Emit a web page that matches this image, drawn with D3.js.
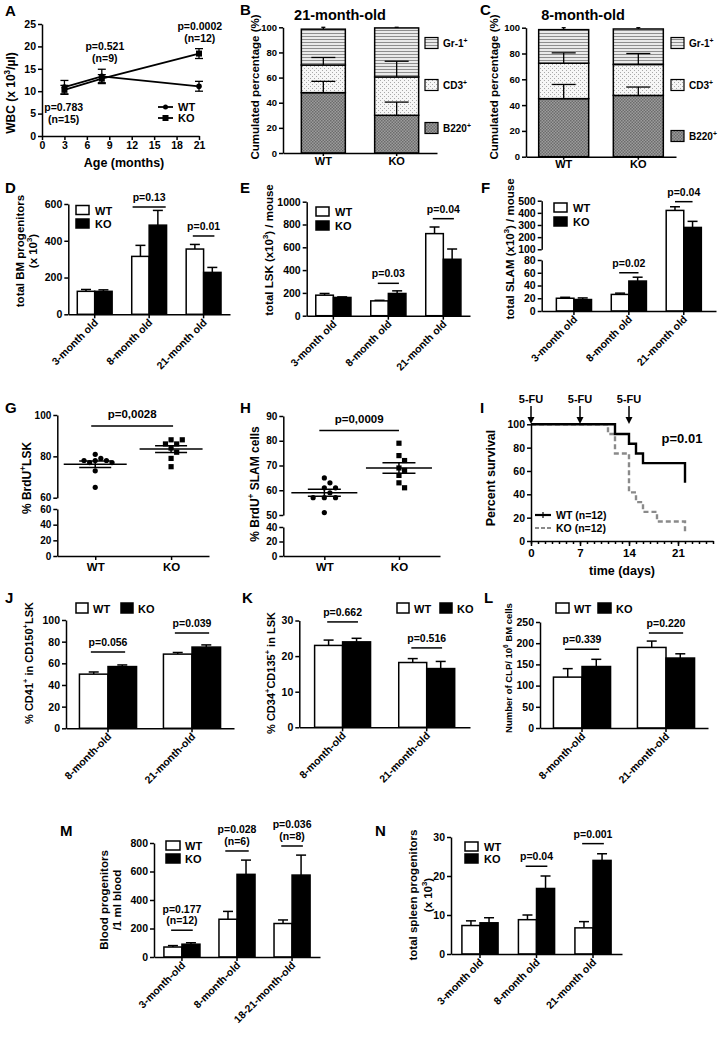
<html>
<head>
  <script src="https://d3js.org/d3.v7.min.js"></script>
  <title>WT vs KO ageing panels</title>
  <style>
    body { margin: 0; background: #fff; }
  </style>
</head>
<body>
<script>
// ---------- data ----------
// A: white blood cell counts
const ageMonths = [3, 8, 21];
const wbcWT = [10.9, 13.3, 11.1];
const wbcWTErr = [1.5, 1.6, 1.1];
const wbcKO = [10.3, 12.8, 18.4];
const wbcKOErr = [1.0, 0.9, 1.1];
const wbcP = ["p=0.783", "p=0.521", "p=0.0002"];
const wbcN = ["(n=15)", "(n=9)", "(n=12)"];

// B, C: lineage composition (stack order bottom -> top)
const genotypes = ["WT", "KO"];
const lineageKeys = ["B220", "CD3", "Gr1"];
const lineageLabels = ["B220^+^", "CD3^+^", "Gr-1^+^"];
const m21B220 = [48, 30], m21CD3 = [22, 30.5], m21Gr1 = [28.5, 39];
const m21B220Err = [9, 10.5], m21CD3Err = [6, 12.5], m21Gr1Err = [1.5, 0.5];
const m8B220 = [45, 47.5], m8CD3 = [27.5, 24], m8Gr1 = [26, 27.5];
const m8B220Err = [11, 6.5], m8CD3Err = [8, 8.5], m8Gr1Err = [1.5, 1];
const pctTicks = [0, 20, 40, 60, 80, 100];

// D, E, F
const ageOld = ["3-month old", "8-month old", "21-month old"];
const bmWT = [125, 315, 355], bmWTErr = [10, 60, 25];
const bmKO = [125, 485, 228], bmKOErr = [8, 80, 27];
const lskWT = [180, 130, 720], lskWTErr = [15, 5, 58];
const lskKO = [160, 195, 495], lskKOErr = [5, 23, 90];
const slamWT = [20, 26, 420], slamWTErr = [1.5, 2, 30];
const slamKO = [18, 47, 280], slamKOErr = [2.5, 6, 50];

// G, H: BrdU incorporation, one value per mouse
const brduLskWT = [81, 79, 78, 78, 78, 77, 77, 73, 65];
const brduLskKO = [88, 88, 86, 86, 84, 82, 79, 75];
const brduSlamWT = [65, 63, 61, 61, 59, 57, 57, 57, 51];
const brduSlamKO = [79, 74, 72, 69, 68, 66, 63, 61];

// I: survival after 5-FU
const wtSurvDays = [0, 12, 14, 15, 16, 22];
const wtSurvPct = [100, 91.7, 83.3, 75, 66.7, 50];
const koSurvDays = [0, 11, 12, 14, 15, 16, 18, 22];
const koSurvPct = [100, 91.7, 75, 41.7, 33.3, 25, 16.7, 8.3];
const fuDays = [0, 7, 14];

// J, K, L
const ageOld2 = ["8-month-old", "21-month-old"];
const cd41WT = [50, 68.5], cd41WTErr = [2, 1.5];
const cd41KO = [57, 75], cd41KOErr = [1.5, 2];
const cd34WT = [23, 18.2], cd34WTErr = [1.5, 1.1];
const cd34KO = [24, 16.5], cd34KOErr = [1, 2];
const clpWT = [120, 190], clpWTErr = [20, 15];
const clpKO = [145, 165], clpKOErr = [17, 10];

// M, N
const ageOld3 = ["3-month-old", "8-month-old", "18-21-month-old"];
const bloodWT = [70, 265, 235], bloodWTErr = [10, 55, 25];
const bloodKO = [90, 580, 575], bloodKOErr = [10, 100, 140];
const spleenWT = [7.3, 8.8, 6.7], spleenWTErr = [1.2, 1.2, 1.6];
const spleenKO = [8, 16.8, 24], spleenKOErr = [1.3, 3.2, 1.7];

// ---------- helpers ----------
const FONT = '"Liberation Sans", Arial, Helvetica, sans-serif';
const svg = d3.select("body").append("svg")
  .attr("width", 722).attr("height", 1039)
  .style("display", "block")
  .attr("font-family", FONT).attr("font-weight", "bold");
svg.append("rect").attr("width", 722).attr("height", 1039).attr("fill", "#fff");

// text where ^...^ marks a superscript
function label(x, y, s, size, anchor, rot) {
  const t = svg.append("text").attr("font-size", size).attr("text-anchor", anchor || "start")
    .attr("transform", `translate(${x},${y})` + (rot ? ` rotate(${rot})` : ""));
  let up = false;
  s.split("^").forEach((p, i) => {
    if (!p) return;
    const ts = t.append("tspan").text(p);
    if (i % 2 === 1) { ts.attr("font-size", size * 0.68).attr("dy", -size * 0.42); up = true; }
    else if (up) { ts.attr("dy", size * 0.42); up = false; }
  });
  return t;
}

function line(x1, y1, x2, y2, w, color) {
  return svg.append("line").attr("x1", x1).attr("y1", y1).attr("x2", x2).attr("y2", y2)
    .attr("stroke", color || "#000").attr("stroke-width", w || 1.5);
}

function styleAxis(g, fs) {
  g.attr("font-family", FONT).attr("font-size", fs).attr("font-weight", "bold");
  g.select(".domain").attr("stroke", "#000").attr("stroke-width", 1.5);
  g.selectAll(".tick line").attr("stroke", "#000").attr("stroke-width", 1.5);
  g.selectAll(".tick text").attr("fill", "#000");
  return g;
}

function leftAxis(scale, x, ticks, fs) {
  return styleAxis(svg.append("g").attr("transform", `translate(${x},0)`)
    .call(d3.axisLeft(scale).tickValues(ticks).tickFormat(d3.format("d"))
      .tickSize(4).tickSizeOuter(0).tickPadding(2)), fs || 10);
}

// fill patterns for the stacked bars
const defs = svg.append("defs");
const pGr = defs.append("pattern").attr("id", "pat-Gr1").attr("patternUnits", "userSpaceOnUse").attr("width", 4).attr("height", 3);
pGr.append("rect").attr("width", 4).attr("height", 3).attr("fill", "#eaeaea");
pGr.append("rect").attr("width", 4).attr("height", 1).attr("fill", "#8e8e8e");
const pCd = defs.append("pattern").attr("id", "pat-CD3").attr("patternUnits", "userSpaceOnUse").attr("width", 4).attr("height", 4);
pCd.append("rect").attr("width", 4).attr("height", 4).attr("fill", "#f6f6f6");
pCd.append("rect").attr("width", 1).attr("height", 1).attr("fill", "#a8a8a8");
pCd.append("rect").attr("x", 2).attr("y", 2).attr("width", 1).attr("height", 1).attr("fill", "#a8a8a8");
const pB = defs.append("pattern").attr("id", "pat-B220").attr("patternUnits", "userSpaceOnUse").attr("width", 3).attr("height", 3);
pB.append("rect").attr("width", 3).attr("height", 3).attr("fill", "#9c9c9c");
pB.append("rect").attr("width", 1.5).attr("height", 1.5).attr("fill", "#6c6c6c");
pB.append("rect").attr("x", 1.5).attr("y", 1.5).attr("width", 1.5).attr("height", 1.5).attr("fill", "#6c6c6c");

// ---------- A ----------
{
  const x = d3.scaleLinear().domain([0, 21]).range([42, 199]);
  const y = d3.scaleLinear().domain([0, 25]).range([136, 24]);
  const series = [
    { name: "WT", v: wbcWT, e: wbcWTErr },
    { name: "KO", v: wbcKO, e: wbcKOErr }];
  const path = d3.line().x((d, i) => x(ageMonths[i])).y(d => y(d));
  series.forEach(s => {
    svg.append("path").attr("d", path(s.v)).attr("fill", "none").attr("stroke", "#000").attr("stroke-width", 1.8);
    s.v.forEach((v, i) => {
      const cx = x(ageMonths[i]);
      line(cx, y(v - s.e[i]), cx, y(v + s.e[i]), 1.3);
      line(cx - 4, y(v - s.e[i]), cx + 4, y(v - s.e[i]), 1.3);
      line(cx - 4, y(v + s.e[i]), cx + 4, y(v + s.e[i]), 1.3);
      if (s.name === "WT") svg.append("circle").attr("cx", cx).attr("cy", y(v)).attr("r", 2.8);
      else svg.append("rect").attr("x", cx - 3).attr("y", y(v) - 3).attr("width", 6).attr("height", 6);
    });
  });
  leftAxis(y, 42, [0, 5, 10, 15, 20, 25], 10.5);
  styleAxis(svg.append("g").attr("transform", "translate(0,136)")
    .call(d3.axisBottom(x).tickValues([0, 3, 6, 9, 12, 15, 18, 21]).tickSize(4).tickSizeOuter(0).tickPadding(2)), 10.5);
  // p-value annotations, anchored in data units
  const annAt = [[2.9, 5.6], [8.4, 19.2], [21.1, 23.7]];
  annAt.forEach((a, i) => {
    label(x(a[0]), y(a[1]), wbcP[i], 10.5, "middle");
    label(x(a[0]), y(a[1]) + 12, wbcN[i], 10.5, "middle");
  });
  // legend
  [["WT", 107], ["KO", 118]].forEach(([n, ly]) => {
    line(158, ly, 173, ly, 1.8);
    if (n === "WT") svg.append("circle").attr("cx", 165.5).attr("cy", ly).attr("r", 2.5);
    else svg.append("rect").attr("x", 162.5).attr("y", ly - 3).attr("width", 6).attr("height", 6);
    label(178, ly + 4, n, 11);
  });
  label(15, 93, "WBC (x 10^3^/µl)", 12, "middle", -90);
  label(124, 167, "Age (months)", 12.5, "middle");
  label(5, 16, "A", 15);
}

// ---------- B, C ----------
function stackPanel(c) {
  const x = d3.scaleBand().domain(genotypes).range([c.ax, c.end]).paddingInner(c.pi).paddingOuter(c.po);
  const y = d3.scaleLinear().domain([0, 100]).range([c.y0, c.y1]);
  const table = genotypes.map((g, i) => ({ g, B220: c.B220[i], CD3: c.CD3[i], Gr1: c.Gr1[i] }));
  const errs = { B220: c.B220Err, CD3: c.CD3Err, Gr1: c.Gr1Err };
  const series = d3.stack().keys(lineageKeys)(table);
  series.forEach(s => {
    svg.append("g").selectAll("rect").data(s).join("rect")
      .attr("x", d => x(d.data.g)).attr("width", x.bandwidth())
      .attr("y", d => y(d[1])).attr("height", d => y(d[0]) - y(d[1]))
      .attr("fill", `url(#pat-${s.key})`).attr("stroke", "#000").attr("stroke-width", 1.5);
  });
  series.forEach(s => s.forEach((d, i) => {
    const e = errs[s.key][i], cx = x(d.data.g) + x.bandwidth() / 2, hw = s.key === "Gr1" ? 2 : 12;
    line(cx, y(d[1]), cx, y(d[1] + e), 1.3);
    line(cx - hw, y(d[1] + e), cx + hw, y(d[1] + e), 1.3);
  }));
  leftAxis(y, c.ax, pctTicks, 9.5);
  styleAxis(svg.append("g").attr("transform", `translate(0,${c.y0})`)
    .call(d3.axisBottom(x).tickSize(3).tickSizeOuter(0).tickPadding(1)), 11);
  lineageKeys.forEach((k, i) => {
    const ly = c.legY[i];
    svg.append("rect").attr("x", c.legX).attr("y", ly - 5.5).attr("width", 13).attr("height", 11)
      .attr("fill", `url(#pat-${k})`).attr("stroke", "#000").attr("stroke-width", 1.2);
    label(c.legX + 18, ly + 4, lineageLabels[i], 10);
  });
  label(c.ax + 57, 20, c.title, 14.5, "middle");
  label(c.labX, 87, "Cumulated percentage (%)", 11.5, "middle", -90);
  label(c.letX, 15, c.letter, 15);
}
stackPanel({ ax: 283, end: 437, pi: 0.4, po: 0.25, y0: 153, y1: 27.3,
  B220: m21B220, CD3: m21CD3, Gr1: m21Gr1, B220Err: m21B220Err, CD3Err: m21CD3Err, Gr1Err: m21Gr1Err,
  legX: 425, legY: [128, 85, 43], title: "21-month-old", labX: 259, letter: "B", letX: 240 });
stackPanel({ ax: 526, end: 676, pi: 0.33, po: 0.17, y0: 156.7, y1: 27.7,
  B220: m8B220, CD3: m8CD3, Gr1: m8Gr1, B220Err: m8B220Err, CD3Err: m8CD3Err, Gr1Err: m8Gr1Err,
  legX: 671, legY: [136, 85, 43], title: "8-month-old", labX: 498, letter: "C", letX: 480 });

// ---------- grouped bar panels ----------
function barPanel(c) {
  const x0 = d3.scaleBand().domain(c.cats).range([c.ax, c.end]).paddingInner(c.pi).paddingOuter(c.po);
  const x1 = d3.scaleBand().domain(genotypes).range([0, x0.bandwidth()]);
  const y = c.y, base = y(0), bw = x1.bandwidth();
  const rows = c.cats.flatMap((k, i) => [
    { k, g: "WT", v: c.wt[i], e: c.wtErr[i] },
    { k, g: "KO", v: c.ko[i], e: c.koErr[i] }]);
  const cx = d => x0(d.k) + x1(d.g) + bw / 2;
  const g = svg.append("g");
  g.selectAll(".err").data(rows).join("line").attr("class", "err")
    .attr("x1", cx).attr("x2", cx).attr("y1", d => y(d.v)).attr("y2", d => y(d.v + d.e))
    .attr("stroke", "#000").attr("stroke-width", 1.5);
  g.selectAll(".cap").data(rows).join("line").attr("class", "cap")
    .attr("x1", d => cx(d) - 5).attr("x2", d => cx(d) + 5)
    .attr("y1", d => y(d.v + d.e)).attr("y2", d => y(d.v + d.e))
    .attr("stroke", "#000").attr("stroke-width", 1.5);
  g.selectAll(".bar").data(rows).join("rect").attr("class", "bar")
    .attr("x", d => x0(d.k) + x1(d.g)).attr("width", bw)
    .attr("y", d => y(d.v)).attr("height", d => base - y(d.v))
    .attr("fill", d => d.g === "WT" ? "#fff" : "#000")
    .attr("stroke", "#000").attr("stroke-width", 1.5);
  c.axes.forEach(a => leftAxis(a.scale, c.ax, a.ticks, c.tfs || 10.5));
  styleAxis(svg.append("g").attr("transform", `translate(0,${base})`)
    .call(d3.axisBottom(x0).tickSize(4).tickSizeOuter(0).tickFormat("")), 10);
  c.cats.forEach(k => label(x0(k) + x0.bandwidth() / 2 + 4, base + 9, k, c.xfs || 10.5, "end", -45));
  c.pv.forEach(p => {
    const mid = x0(c.cats[p.i]) + x0.bandwidth() / 2, half = x0.bandwidth() * p.w / 2, ly = y(p.lv);
    line(mid - half, ly, mid + half, ly, 1.5);
    p.t.slice().reverse().forEach((s, j) => label(mid, ly - 6 - j * 11.5, s, c.pfs || 10.5, "middle"));
  });
  genotypes.forEach((gname, i) => {
    const lx = c.leg.x + i * (c.leg.dx || 0), ly = c.leg.y + i * (c.leg.dy || 0);
    svg.append("rect").attr("x", lx).attr("y", ly).attr("width", c.leg.w).attr("height", c.leg.h)
      .attr("fill", gname === "WT" ? "#fff" : "#000").attr("stroke", "#000").attr("stroke-width", 1.5);
    label(lx + c.leg.tx, ly + c.leg.h, gname, 11);
  });
  c.ylab.forEach(l => label(l[1], l[2], l[0], l[3], "middle", -90));
  label(c.letter[1], c.letter[2], c.letter[0], 15);
}

const yD = d3.scaleLinear().domain([0, 600]).range([314.3, 204]);
barPanel({ cats: ageOld, wt: bmWT, wtErr: bmWTErr, ko: bmKO, koErr: bmKOErr,
  ax: 68.3, end: 230, pi: 0.36, po: 0.165, y: yD, axes: [{ scale: yD, ticks: [0, 200, 400, 600] }],
  pv: [{ i: 1, t: ["p=0.13"], lv: 584, w: 0.95 }, { i: 2, t: ["p=0.01"], lv: 426, w: 0.62 }],
  leg: { x: 76, y: 205.5, dy: 13.5, w: 13, h: 9, tx: 19 },
  ylab: [["total BM progenitors", 24, 251, 11.5], ["(x 10^3^)", 37, 251, 11.5]],
  letter: ["D", 5, 193] });

const yE = d3.scaleLinear().domain([0, 1000]).range([315.7, 201.7]);
barPanel({ cats: ageOld, wt: lskWT, wtErr: lskWTErr, ko: lskKO, koErr: lskKOErr,
  ax: 306.7, end: 470, pi: 0.36, po: 0.165, y: yE, axes: [{ scale: yE, ticks: [0, 200, 400, 600, 800, 1000] }],
  pv: [{ i: 1, t: ["p=0.03"], lv: 284, w: 0.6 }, { i: 2, t: ["p=0.04"], lv: 851, w: 0.6 }],
  leg: { x: 316, y: 207, dy: 14, w: 13, h: 9, tx: 19 },
  ylab: [["total LSK (x10^3^) / mouse", 273, 250, 11.5]],
  letter: ["E", 240, 193] });

const fLow = d3.scaleLinear().domain([0, 80]).range([311, 260]);
const fHigh = d3.scaleLinear().domain([100, 500]).range([249.3, 200.7]);
const fY = v => v <= 80 ? fLow(v) : v >= 100 ? fHigh(v) : fLow(80) + (fHigh(100) - fLow(80)) * (v - 80) / 20;
barPanel({ cats: ageOld, wt: slamWT, wtErr: slamWTErr, ko: slamKO, koErr: slamKOErr,
  ax: 541.7, end: 716, pi: 0.36, po: 0.267, y: fY,
  axes: [{ scale: fLow, ticks: [0, 20, 40, 60, 80] }, { scale: fHigh, ticks: [100, 200, 300, 400, 500] }],
  pv: [{ i: 1, t: ["p=0.02"], lv: 60, w: 0.55 }, { i: 2, t: ["p=0.04"], lv: 492, w: 0.5 }],
  leg: { x: 554, y: 203, dy: 14, w: 13, h: 9, tx: 19 },
  ylab: [["total SLAM (x10^3^) / mouse", 514, 249, 11.5]],
  letter: ["F", 481, 193] });

// ---------- G, H dot plots ----------
function swarm(vals, yf, cx, r, step) {
  const placed = [];
  return vals.slice().sort((a, b) => b - a).map(v => {
    const py = yf(v);
    let k = 0, px = cx;
    for (;;) {
      px = cx + (k === 0 ? 0 : (k % 2 ? 1 : -1) * Math.ceil(k / 2) * step);
      if (placed.every(p => Math.hypot(p.x - px, p.y - py) >= 2 * r + 1)) break;
      k++;
    }
    placed.push({ x: px, y: py });
    return { x: px, y: py };
  });
}

function dotPanel(c) {
  const x = d3.scalePoint().domain(genotypes).range([c.ax, c.end]).padding(c.pad);
  const yf = c.y;
  [c.wt, c.ko].forEach((vals, gi) => {
    const cx = x(genotypes[gi]);
    swarm(vals, yf, cx, 2.4, 5.6).forEach(p => {
      if (gi === 0) svg.append("circle").attr("cx", p.x).attr("cy", p.y).attr("r", 2.6);
      else svg.append("rect").attr("x", p.x - 2.6).attr("y", p.y - 2.6).attr("width", 5.2).attr("height", 5.2);
    });
    const m = d3.mean(vals), se = d3.deviation(vals) / Math.sqrt(vals.length);
    line(cx - c.mw, yf(m), cx + c.mw, yf(m), 1.5);
    line(cx, yf(m - se), cx, yf(m + se), 1.5);
    line(cx - c.sw, yf(m - se), cx + c.sw, yf(m - se), 1.5);
    line(cx - c.sw, yf(m + se), cx + c.sw, yf(m + se), 1.5);
  });
  c.axes.forEach(a => leftAxis(a.scale, c.ax, a.ticks, 10));
  styleAxis(svg.append("g").attr("transform", `translate(0,${c.base})`)
    .call(d3.axisBottom(x).tickSize(4).tickSizeOuter(0).tickPadding(3)), 11.5);
  const ly = yf(c.p.lv);
  line(x("WT") + c.p.dx0, ly, x("KO") + c.p.dx1, ly, 1.5);
  label((x("WT") + c.p.dx0 + x("KO") + c.p.dx1) / 2, ly - 7.5, c.p.t, 11.5, "middle");
  label(c.ylab[1], c.ylab[2], c.ylab[0], 12, "middle", -90);
  label(c.letter[1], c.letter[2], c.letter[0], 15);
}

const gHigh = d3.scaleLinear().domain([60, 100]).range([497.7, 415]);
const gLow = d3.scaleLinear().domain([0, 60]).range([556, 509]);
dotPanel({ wt: brduLskWT, ko: brduLskKO, ax: 57.3, end: 209, pad: 0.5, base: 556,
  y: v => v >= 60 ? gHigh(v) : gLow(v),
  axes: [{ scale: gLow, ticks: [0, 20, 40, 60] }, { scale: gHigh, ticks: [60, 80, 100] }],
  mw: 31.5, sw: 16, p: { t: "p=0,0028", lv: 94.7, dx0: -4, dx1: 2 },
  ylab: ["% BrdU^+^LSK", 31, 478], letter: ["G", 5, 413] });

const hHigh = d3.scaleLinear().domain([50, 90]).range([515, 416]);
const hLow = d3.scaleLinear().domain([0, 40]).range([556, 527]);
dotPanel({ wt: brduSlamWT, ko: brduSlamKO, ax: 283.3, end: 440, pad: 0.55, base: 556,
  y: v => v >= 50 ? hHigh(v) : hLow(v),
  axes: [{ scale: hLow, ticks: [0, 20, 40] }, { scale: hHigh, ticks: [50, 60, 70, 80, 90] }],
  mw: 33, sw: 16.5, p: { t: "p=0,0009", lv: 84.1, dx0: -5, dx1: 0 },
  ylab: ["% BrdU^+^ SLAM cells", 259, 484], letter: ["H", 240, 413] });

// ---------- I survival ----------
{
  const x = d3.scaleLinear().domain([0, 26]).range([531, 713]);
  const y = d3.scaleLinear().domain([0, 100]).range([541, 424.3]);
  const step = d3.line().curve(d3.curveStepAfter).x(d => x(d[0])).y(d => y(d[1]));
  svg.append("path").attr("d", step(koSurvDays.map((d, i) => [d, koSurvPct[i]])))
    .attr("fill", "none").attr("stroke", "#8a8a8a").attr("stroke-width", 2.4).attr("stroke-dasharray", "5,3");
  svg.append("path").attr("d", step(wtSurvDays.map((d, i) => [d, wtSurvPct[i]])))
    .attr("fill", "none").attr("stroke", "#000").attr("stroke-width", 2.4);
  leftAxis(y, 531, [0, 20, 40, 60, 80, 100], 10.5);
  styleAxis(svg.append("g").attr("transform", "translate(0,541)")
    .call(d3.axisBottom(x).tickValues(d3.range(0, 27)).tickSize(3).tickSizeOuter(0).tickFormat("")), 10.5);
  styleAxis(svg.append("g").attr("transform", "translate(0,541)")
    .call(d3.axisBottom(x).tickValues([0, 7, 14, 21]).tickSize(5).tickSizeOuter(0).tickPadding(3)), 11.5)
    .select(".domain").remove();
  fuDays.forEach(d => {
    const ax = x(d);
    label(ax, 403, "5-FU", 11, "middle");
    line(ax, 406, ax, 418, 1.5);
    svg.append("path").attr("d", `M${ax - 3.5},${417} L${ax + 3.5},${417} L${ax},${424} Z`).attr("fill", "#000");
  });
  line(535, 515, 551, 515, 2.2);
  line(543, 512, 543, 518, 1.2);
  label(556, 519, "WT (n=12)", 10.5);
  line(535, 528, 551, 528, 2.2, "#8a8a8a").attr("stroke-dasharray", "4,2");
  label(556, 532, "KO (n=12)", 10.5);
  label(682, 443, "p=0.01", 13, "middle");
  label(495, 478, "Percent survival", 12.5, "middle", -90);
  label(622, 575, "time (days)", 12.5, "middle");
  label(480, 413, "I", 15);
}

// ---------- J, K, L ----------
const yJ = d3.scaleLinear().domain([0, 100]).range([728.3, 620]);
barPanel({ cats: ageOld2, wt: cd41WT, wtErr: cd41WTErr, ko: cd41KO, koErr: cd41KOErr,
  ax: 66, end: 234, pi: 0.32, po: 0.16, y: yJ, axes: [{ scale: yJ, ticks: [0, 20, 40, 60, 80, 100] }],
  pv: [{ i: 0, t: ["p=0.056"], lv: 70.4, w: 0.6 }, { i: 1, t: ["p=0.039"], lv: 88, w: 0.6 }],
  leg: { x: 76, y: 603, dx: 45, w: 12, h: 10, tx: 17 },
  ylab: [["% CD41^+^ in CD150^+^LSK", 33, 663, 11]], letter: ["J", 5, 603] });

const yK = d3.scaleLinear().domain([0, 30]).range([727.3, 620.5]);
barPanel({ cats: ageOld2, wt: cd34WT, wtErr: cd34WTErr, ko: cd34KO, koErr: cd34KOErr,
  ax: 299.3, end: 470, pi: 0.335, po: 0.182, y: yK, axes: [{ scale: yK, ticks: [0, 10, 20, 30] }],
  pv: [{ i: 0, t: ["p=0.662"], lv: 29.6, w: 0.55 }, { i: 1, t: ["p=0.516"], lv: 22.3, w: 0.55 }],
  leg: { x: 397, y: 603, dx: 43, w: 12, h: 10, tx: 17 },
  ylab: [["% CD34^+^CD135^+^ in LSK", 275, 673, 11]], letter: ["K", 242, 603] });

const yL = d3.scaleLinear().domain([0, 250]).range([728, 622]);
barPanel({ cats: ageOld2, wt: clpWT, wtErr: clpWTErr, ko: clpKO, koErr: clpKOErr,
  ax: 540, end: 708, pi: 0.32, po: 0.16, y: yL, axes: [{ scale: yL, ticks: [0, 50, 100, 150, 200, 250] }],
  pv: [{ i: 0, t: ["p=0.339"], lv: 186, w: 0.6 }, { i: 1, t: ["p=0.220"], lv: 224, w: 0.6 }],
  leg: { x: 556, y: 603, dx: 42, w: 13, h: 10, tx: 18 },
  ylab: [["Number of CLP/ 10^6^ BM cells", 512, 668, 9.5]], letter: ["L", 484, 603] });

// ---------- M, N ----------
const yM = d3.scaleLinear().domain([0, 800]).range([957, 843]);
barPanel({ cats: ageOld3, wt: bloodWT, wtErr: bloodWTErr, ko: bloodKO, koErr: bloodKOErr,
  ax: 154, end: 320, pi: 0.345, po: 0.18, y: yM, axes: [{ scale: yM, ticks: [0, 200, 400, 600, 800] }],
  pv: [{ i: 0, t: ["p=0.177", "(n=12)"], lv: 188, w: 0.6 },
       { i: 1, t: ["p=0.028", "(n=6)"], lv: 744, w: 0.65 },
       { i: 2, t: ["p=0.036", "(n=8)"], lv: 779, w: 0.6 }],
  leg: { x: 166, y: 841, dy: 13, w: 14, h: 9, tx: 19 },
  ylab: [["Blood progenitors", 108, 900, 11.5], ["/1 ml blood", 121, 900, 11.5]],
  letter: ["M", 60, 836] });

const yN = d3.scaleLinear().domain([0, 30]).range([954, 837]);
barPanel({ cats: ageOld, wt: spleenWT, wtErr: spleenWTErr, ko: spleenKO, koErr: spleenKOErr,
  ax: 451, end: 622, pi: 0.36, po: 0.193, y: yN, axes: [{ scale: yN, ticks: [0, 10, 20, 30] }],
  pv: [{ i: 1, t: ["p=0.04"], lv: 22.5, w: 0.6 }, { i: 2, t: ["p=0.001"], lv: 28.3, w: 0.6 }],
  leg: { x: 465, y: 842, dy: 12, w: 13, h: 9, tx: 19 },
  ylab: [["total spleen progenitors", 417, 895, 11.5], ["(x 10^3^)", 432, 895, 11.5]],
  letter: ["N", 375, 836] });
</script>
</body>
</html>
